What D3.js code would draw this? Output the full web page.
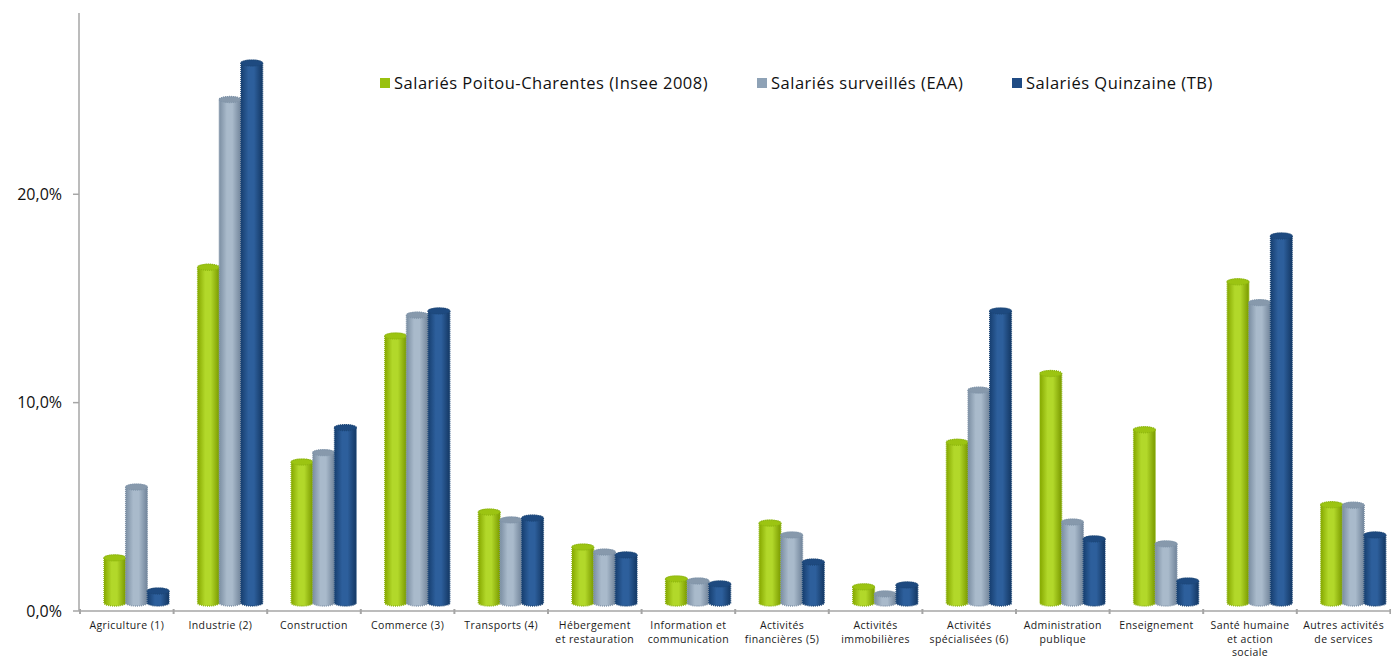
<!DOCTYPE html>
<html>
<head>
<meta charset="utf-8">
<script src="https://cdn.jsdelivr.net/npm/d3@7"></script>
<style>
  html, body { margin: 0; padding: 0; background: #fff; }
  svg { display: block; }
</style>
</head>
<body>
<svg id="chart" width="1391" height="658"></svg>
<script>
// Secteurs d'activité (libellés sur plusieurs lignes séparées par "\n")
const categories = [
  "Agriculture (1)", "Industrie (2)", "Construction", "Commerce (3)", "Transports (4)",
  "Hébergement\net restauration", "Information et\ncommunication", "Activités\nfinancières (5)",
  "Activités\nimmobilières", "Activités\nspécialisées (6)", "Administration\npublique",
  "Enseignement", "Santé humaine\net action\nsociale", "Autres activités\nde services"
];

const seriesNames = [
  "Salariés Poitou-Charentes (Insee 2008)",
  "Salariés surveillés (EAA)",
  "Salariés Quinzaine (TB)"
];

// Part des salariés par secteur (%)
const poitouCharentes = [2.45, 16.4, 7.05, 13.1, 4.65, 2.97, 1.44, 4.12, 1.06, 8.0, 11.3, 8.6, 15.7, 5.0];
const surveilles      = [5.85, 24.45, 7.5, 14.1, 4.27, 2.73, 1.34, 3.55, 0.72, 10.5, 4.17, 3.12, 14.7, 4.98];
const quinzaine       = [0.86, 26.2, 8.7, 14.3, 4.36, 2.59, 1.2, 2.25, 1.15, 14.3, 3.36, 1.34, 17.9, 3.55];

const yTicks = [0, 10, 20];

const series = [poitouCharentes, surveilles, quinzaine];

// Palette des cylindres : bord gauche, reflet, bord droit, contour pointillé, sommet
const palettes = [
  { edgeL: "#86A800", light: "#B2D82A", edgeR: "#7A9A00", stroke: "#8DB510", top: "#9CC412", legend: "#99C10F" },
  { edgeL: "#7C8FA3", light: "#A9BACB", edgeR: "#71849A", stroke: "#7F93A8", top: "#8799AC", legend: "#8EA2B6" },
  { edgeL: "#173F70", light: "#2D5F9C", edgeR: "#143864", stroke: "#1D4777", top: "#1E4A80", legend: "#1F4B84" }
];

const FONT = "'Open Sans', Lato, sans-serif";

const svg = d3.select("#chart");
const W = 1391, H = 658;

const x = d3.scaleBand().domain(categories).range([80, 80 + 93.6 * 14]).paddingInner(0).paddingOuter(0);
const xs = d3.scaleBand().domain(d3.range(3)).range([24, 89]).padding(0);
const y = d3.scaleLinear().domain([0, 28.7]).range([611, 13]);

const depth = 5;   // décalage vertical dû à la profondeur 3D
const ry = 3;      // demi-hauteur de l'ellipse du cylindre

// Dégradés horizontaux des cylindres
const defs = svg.append("defs");
palettes.forEach((p, i) => {
  const g = defs.append("linearGradient").attr("id", "cyl" + i)
    .attr("x1", "0%").attr("x2", "100%").attr("y1", "0%").attr("y2", "0%");
  g.append("stop").attr("offset", "0%").attr("stop-color", p.edgeL);
  g.append("stop").attr("offset", "35%").attr("stop-color", p.light);
  g.append("stop").attr("offset", "60%").attr("stop-color", p.light);
  g.append("stop").attr("offset", "100%").attr("stop-color", p.edgeR);
});

// Axes
const fr = d3.formatLocale({ decimal: ",", thousands: " ", grouping: [3], currency: ["", " €"] });
const fmt = v => fr.format(".1f")(v) + "%";

svg.append("line")
  .attr("x1", 79).attr("x2", 79).attr("y1", 13).attr("y2", y(0))
  .attr("stroke", "#A6A6A6").attr("stroke-width", 1.5);

const yAxis = svg.append("g");
yAxis.selectAll("line.tick").data(yTicks).join("line")
  .attr("x1", 73).attr("x2", 79)
  .attr("y1", d => y(d)).attr("y2", d => y(d))
  .attr("stroke", "#A6A6A6").attr("stroke-width", 1.5);
yAxis.selectAll("text").data(yTicks).join("text")
  .attr("x", 62).attr("y", d => y(d))
  .attr("dy", "0.36em")
  .attr("text-anchor", "end")
  .attr("font-family", FONT)
  .attr("font-size", 16)
  .attr("fill", "#111")
  .text(d => fmt(d));

svg.append("line")
  .attr("x1", 79).attr("x2", W).attr("y1", y(0)).attr("y2", y(0))
  .attr("stroke", "#A6A6A6").attr("stroke-width", 1.5);

const bounds = categories.map(c => x(c)).concat([x.range()[1]]);
svg.selectAll("line.xtick").data(bounds).join("line")
  .attr("class", "xtick")
  .attr("x1", d => d).attr("x2", d => d)
  .attr("y1", y(0) - 2).attr("y2", y(0) + 3)
  .attr("stroke", "#A6A6A6").attr("stroke-width", 2);

// Libellés des catégories
const labels = svg.append("g")
  .attr("font-family", FONT)
  .attr("font-size", 10.5)
  .attr("letter-spacing", 0.4)
  .attr("fill", "#1a1a1a")
  .attr("text-anchor", "middle");
categories.forEach(c => {
  const t = labels.append("text").attr("x", x(c) + x.bandwidth() / 2).attr("y", 629);
  c.split("\n").forEach((line, k) => {
    t.append("tspan").attr("x", x(c) + x.bandwidth() / 2).attr("dy", k === 0 ? 0 : 13.5).text(line);
  });
});

// Cylindres
function cylinderBody(x0, w, yt, yb) {
  const rx = w / 2;
  return `M${x0},${yt} L${x0},${yb} A${rx},${ry} 0 0 0 ${x0 + w},${yb} L${x0 + w},${yt} A${rx},${ry} 0 0 0 ${x0},${yt} Z`;
}

const bars = svg.append("g");
categories.forEach((c, ci) => {
  series.forEach((vals, si) => {
    const v = vals[ci];
    const w = xs.bandwidth();
    const x0 = x(c) + xs(si);
    const yt = y(v) - depth + ry;
    const yb = y(0) - depth - ry;
    const p = palettes[si];
    bars.append("path")
      .attr("d", cylinderBody(x0, w, yt, yb))
      .attr("fill", `url(#cyl${si})`)
      .attr("stroke", p.stroke)
      .attr("stroke-width", 1.4)
      .attr("stroke-dasharray", "1 1");
    bars.append("ellipse")
      .attr("cx", x0 + w / 2).attr("cy", yt)
      .attr("rx", w / 2).attr("ry", ry)
      .attr("fill", p.top)
      .attr("stroke", p.stroke)
      .attr("stroke-width", 1.2)
      .attr("stroke-dasharray", "1 1");
  });
});

// Légende
const legendX = [380, 757, 1012];
const legend = svg.append("g")
  .attr("font-family", FONT)
  .attr("font-size", 16.5)
  .attr("letter-spacing", 0.5)
  .attr("fill", "#111");
seriesNames.forEach((name, i) => {
  legend.append("rect")
    .attr("x", legendX[i]).attr("y", 78)
    .attr("width", 10).attr("height", 10)
    .attr("fill", palettes[i].legend);
  legend.append("text")
    .attr("x", legendX[i] + 14).attr("y", 83)
    .attr("dy", "0.36em")
    .text(name);
});
</script>
</body>
</html>
